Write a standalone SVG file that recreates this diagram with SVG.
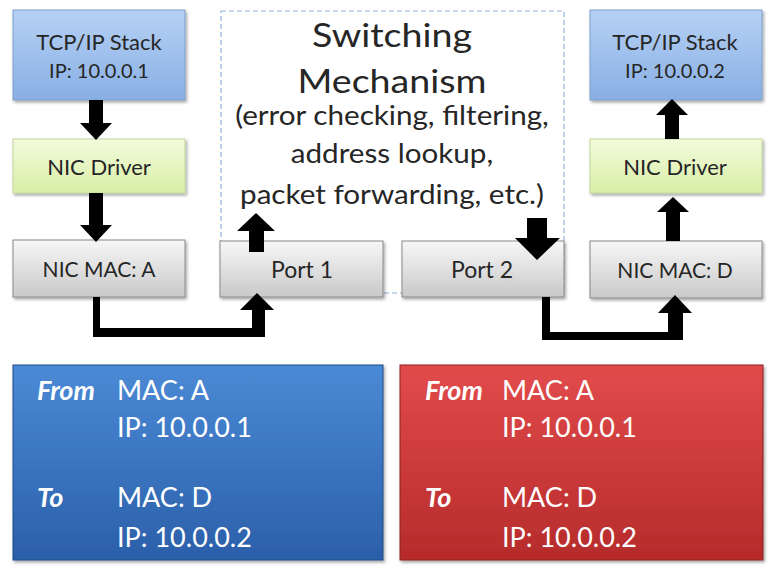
<svg xmlns="http://www.w3.org/2000/svg" width="772" height="571" viewBox="0 0 772 571">
<defs>
<linearGradient id="gBlue" x1="0" y1="0" x2="0" y2="1"><stop offset="0" stop-color="#b6d1f4"/><stop offset="1" stop-color="#88afe4"/></linearGradient>
<linearGradient id="gGreen" x1="0" y1="0" x2="0" y2="1"><stop offset="0" stop-color="#f3fbdc"/><stop offset="1" stop-color="#d8efa6"/></linearGradient>
<linearGradient id="gGray" x1="0" y1="0" x2="0" y2="1"><stop offset="0" stop-color="#f7f7f7"/><stop offset="1" stop-color="#c9c9c9"/></linearGradient>
<linearGradient id="gBigBlue" x1="0" y1="0" x2="0" y2="1"><stop offset="0" stop-color="#4b8ad6"/><stop offset="1" stop-color="#2b5fa9"/></linearGradient>
<linearGradient id="gBigRed" x1="0" y1="0" x2="0" y2="1"><stop offset="0" stop-color="#e24b4b"/><stop offset="1" stop-color="#b62b2b"/></linearGradient>
<filter id="sh" x="-10%" y="-10%" width="120%" height="130%"><feDropShadow dx="1.5" dy="2" stdDeviation="1.5" flood-color="#000" flood-opacity="0.35"/></filter>
</defs>
<style>
.t{font-family:"Lato","Liberation Sans",sans-serif;fill:#262626;text-anchor:middle}
.lbl{font-size:22px}
.ip{font-size:20px}
.w{font-family:"Lato","Liberation Sans",sans-serif;fill:#ffffff;font-size:27px}
.wb{font-weight:bold;font-style:italic}
.arr{fill:#000}
</style>
<rect width="772" height="571" fill="#ffffff"/>
<g id="switch">
<rect x="221" y="11" width="343" height="282" fill="#ffffff" stroke="#8fb3d9" stroke-width="1.2" stroke-dasharray="5,3"/>
<g transform="translate(392,0) scale(1.14,1)">
<text class="t" x="0" y="47" font-size="33">Switching</text>
<text class="t" x="0" y="93" font-size="33">Mechanism</text>
<text class="t" x="0" y="125" font-size="26">(error checking, filtering,</text>
<text class="t" x="0" y="163" font-size="26">address lookup,</text>
<text class="t" x="0" y="204" font-size="26">packet forwarding, etc.)</text>
</g>
</g>
<g id="stackL"><rect x="13" y="10" width="172" height="90" fill="url(#gBlue)" stroke="#7d9fca" filter="url(#sh)"/>
<text class="t lbl" x="99" y="50">TCP/IP Stack</text><text class="t ip" x="99" y="78">IP: 10.0.0.1</text></g>
<g id="driverL"><rect x="13" y="139" width="172" height="54" fill="url(#gGreen)" stroke="#c3d69c" filter="url(#sh)"/>
<text class="t lbl" x="99" y="175">NIC Driver</text></g>
<g id="macA"><rect x="13" y="240" width="172" height="57" fill="url(#gGray)" stroke="#8a8a8a" filter="url(#sh)"/>
<text class="t" x="99" y="277" font-size="21">NIC MAC: A</text></g>
<g id="port1"><rect x="220" y="241" width="163" height="56" fill="url(#gGray)" stroke="#8a8a8a" filter="url(#sh)"/>
<text class="t" x="302" y="278" font-size="23">Port 1</text></g>
<g id="port2"><rect x="402" y="241" width="162" height="56" fill="url(#gGray)" stroke="#8a8a8a" filter="url(#sh)"/>
<text class="t" x="482" y="278" font-size="23">Port 2</text></g>
<g id="stackR"><rect x="590" y="10" width="172" height="90" fill="url(#gBlue)" stroke="#7d9fca" filter="url(#sh)"/>
<text class="t lbl" x="675" y="50">TCP/IP Stack</text><text class="t ip" x="675" y="78">IP: 10.0.0.2</text></g>
<g id="driverR"><rect x="590" y="139" width="172" height="54" fill="url(#gGreen)" stroke="#c3d69c" filter="url(#sh)"/>
<text class="t lbl" x="675" y="175">NIC Driver</text></g>
<g id="macD"><rect x="590" y="241" width="172" height="57" fill="url(#gGray)" stroke="#8a8a8a" filter="url(#sh)"/>
<text class="t" x="675" y="278" font-size="21">NIC MAC: D</text></g>
<g id="connectors" class="arr">
<polygon points="89,100 103,100 103,123 112,123 96,140 80,123 89,123"/>
<polygon points="89,193 103,193 103,225 112,225 96,242 80,225 89,225"/>
<polygon points="249,252 264,252 264,231 275,231 256,213 237,231 249,231"/>
<polygon points="527,218 547,218 547,238 560,238 537,260 515,238 527,238"/>
<polygon points="93,297 100,297 100,328 252,328 252,310 240,310 257,293 274,310 265,310 265,337 93,337"/>
<polygon points="542,297 550,297 550,332 668,332 668,313 658,313 675,295 692,313 683,313 683,340 542,340"/>
<polygon points="666,241 680,241 680,212 689,212 673,197 657,212 666,212"/>
<polygon points="665,139 679,139 679,115 688,115 672,99 656,115 665,115"/>
</g>
<g id="frameBlue"><rect x="13" y="365" width="370" height="195" fill="url(#gBigBlue)" stroke="#1f4b86" filter="url(#sh)"/>
<text class="w wb" x="37" y="400">From</text><text class="w" x="117" y="400">MAC: A</text>
<text class="w" x="117" y="437">IP: 10.0.0.1</text>
<text class="w wb" x="37" y="507">To</text><text class="w" x="117" y="507">MAC: D</text>
<text class="w" x="117" y="547">IP: 10.0.0.2</text></g>
<g id="frameRed"><rect x="400" y="365" width="363" height="195" fill="url(#gBigRed)" stroke="#8c2020" filter="url(#sh)"/>
<text class="w wb" x="425" y="400">From</text><text class="w" x="502" y="400">MAC: A</text>
<text class="w" x="502" y="437">IP: 10.0.0.1</text>
<text class="w wb" x="425" y="507">To</text><text class="w" x="502" y="507">MAC: D</text>
<text class="w" x="502" y="547">IP: 10.0.0.2</text></g>
</svg>
